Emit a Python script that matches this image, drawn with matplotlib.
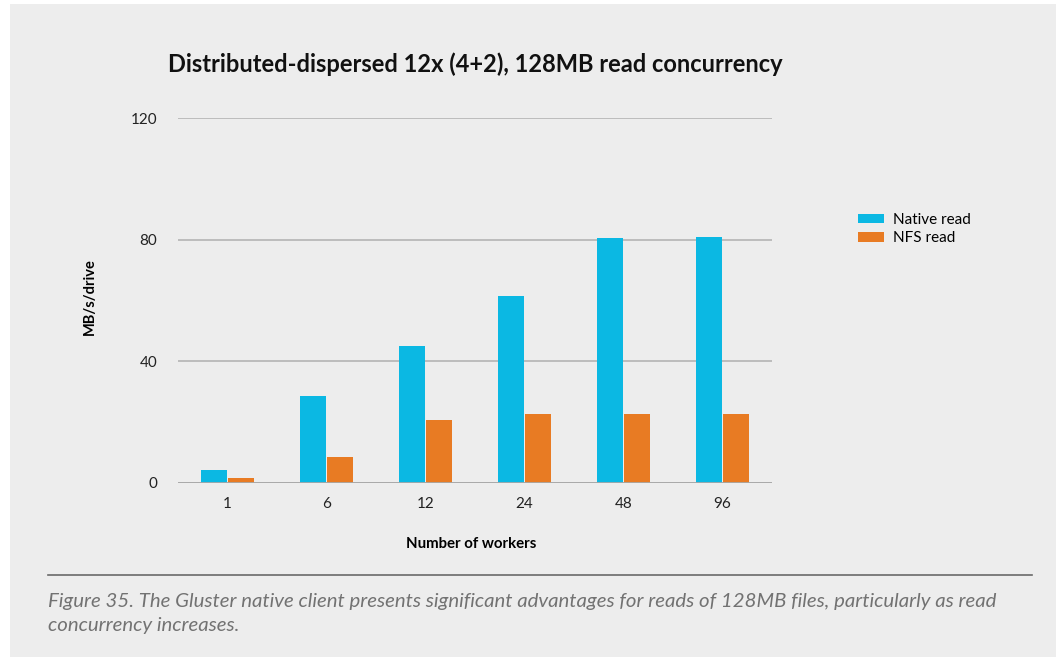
import matplotlib.pyplot as plt
import matplotlib.patches as mpatches
import numpy as np

workers = ["1", "6", "12", "24", "48", "96"]
native_read = [4.3, 28.6, 45.0, 61.5, 80.5, 81.0]
nfs_read = [1.6, 8.5, 20.7, 22.7, 22.7, 22.7]
y_ticks = [0, 40, 80, 120]

BLUE = "#0bb8e3"
ORANGE = "#e87b23"
BG = "#ededed"

plt.rcParams["font.family"] = ["Lato", "DejaVu Sans"]

W, H = 1059, 657
fig = plt.figure(figsize=(W / 100, H / 100), dpi=100)
fig.patch.set_facecolor("white")

# gray panel behind everything
fig.add_artist(mpatches.Rectangle((10 / W, 0), 1046 / W, (H - 4) / H,
                                  transform=fig.transFigure, facecolor=BG,
                                  edgecolor="none", zorder=0))

ax = fig.add_axes([178 / W, 1 - 483 / H, (772 - 178) / W, (483 - 118) / H])
ax.patch.set_alpha(0)

x = np.arange(len(workers))
bw = 0.265
ax.bar(x - bw / 2 - 0.004, native_read, bw, color=BLUE, zorder=3,
       label="Native read")
ax.bar(x + bw / 2 + 0.004, nfs_read, bw, color=ORANGE, zorder=3,
       label="NFS read")

ax.set_xlim(-0.5, len(workers) - 0.5)
ax.set_ylim(0, 120)
ax.set_yticks(y_ticks)
ax.set_xticks(x)
ax.set_xticklabels(workers)
ax.tick_params(axis="both", length=0, labelsize=11, colors="#222222")
ax.tick_params(axis="y", pad=15)
ax.tick_params(axis="x", pad=10)
for s in ax.spines.values():
    s.set_visible(False)
ax.grid(axis="y", color="#b4b4b4", linewidth=1.2, zorder=1)
ax.axhline(0, color="#a8a8a8", linewidth=2.0, zorder=4)

ax.set_ylabel("MB/s/drive", fontsize=10.5, fontweight="bold",
              va="center", ha="center")
ax.yaxis.set_label_coords((90 - 178) / 594, (483 - 297) / 365)
ax.set_xlabel("Number of workers", fontsize=10.8, fontweight="bold",
              va="center", ha="center")
ax.xaxis.set_label_coords((471 - 178) / 594, (483 - 544) / 365)

fig.text(475 / W, 1 - 64 / H,
         "Distributed-dispersed 12x (4+2), 128MB read concurrency",
         ha="center", va="center", fontsize=17, fontweight="bold",
         color="#111111")

ax.legend(loc="upper left", bbox_to_anchor=(844 / W, 1 - 199 / H),
          bbox_transform=fig.transFigure, frameon=False, fontsize=11,
          handlelength=1.75, handleheight=0.55, handletextpad=0.55,
          labelspacing=0.3)

fig.add_artist(plt.Line2D([48 / W, 1032 / W], [1 - 575 / H, 1 - 575 / H],
                          transform=fig.transFigure, color="#6a6a6a",
                          linewidth=1.2))

fig.text(48 / W, 1 - 602 / H,
         "Figure 35. The Gluster native client presents significant advantages "
         "for reads of 128MB files, particularly as read",
         ha="left", va="center", fontsize=14.7, style="italic",
         color="#727272")
fig.text(48 / W, 1 - 626 / H, "concurrency increases.",
         ha="left", va="center", fontsize=14.7, style="italic",
         color="#727272")

fig.savefig("out.png", dpi=100, facecolor=fig.get_facecolor())
